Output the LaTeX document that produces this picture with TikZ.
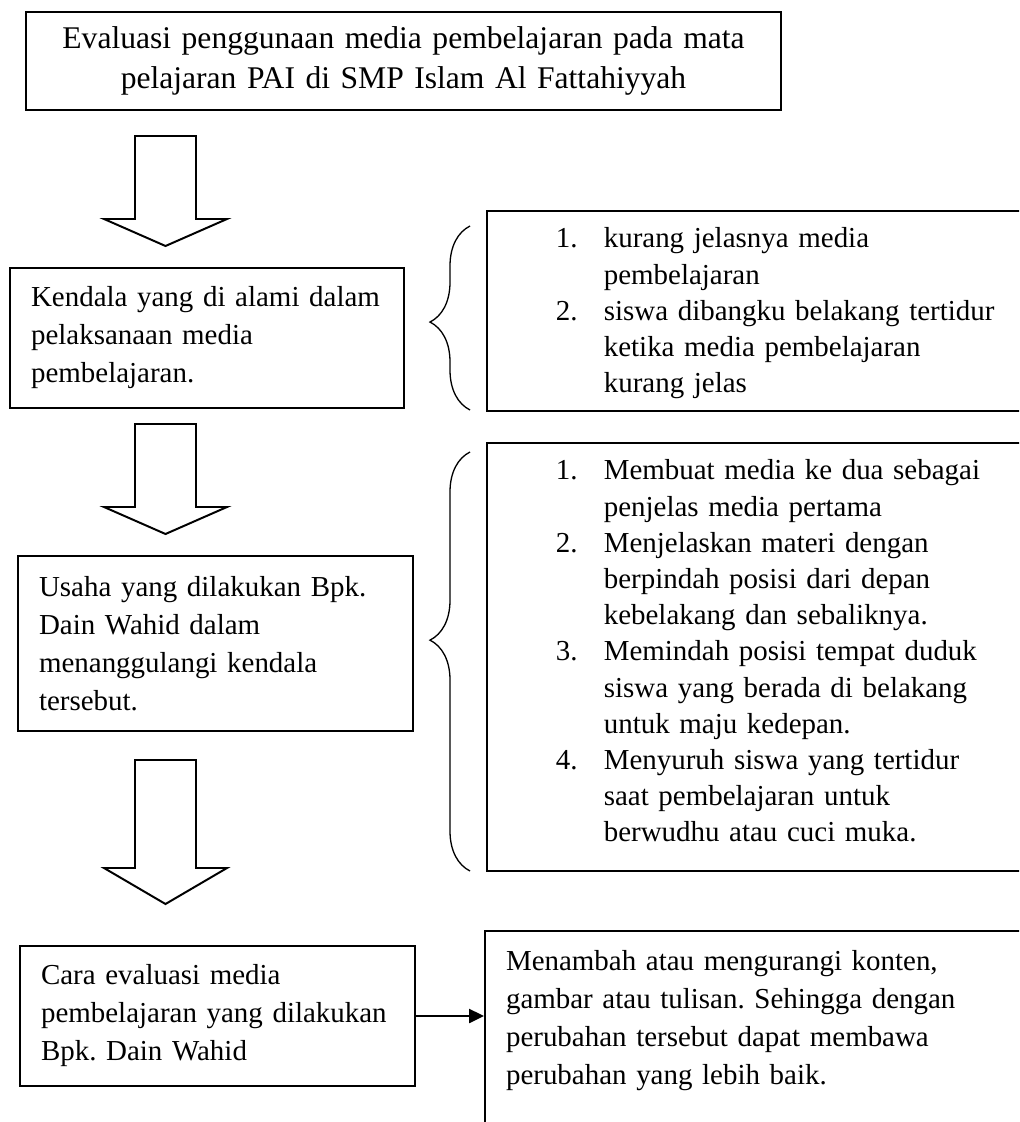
\documentclass[tikz,border=0pt]{standalone}
\usepackage{fontspec}
\setmainfont{Liberation Serif}
\usetikzlibrary{arrows.meta,decorations.pathreplacing}
\newcommand{\butir}[2]{\par\noindent\hangindent=18.2pt\hangafter=1\makebox[18.2pt][l]{#1}#2}

\begin{document}
\frenchspacing
\begin{tikzpicture}[x=0.38pt,y=-0.38pt,line width=0.75pt,font=\fontsize{11}{14.45}\selectfont]
% Node styles: plain box and numbered list box
\tikzstyle{box node}=[rectangle,draw,inner xsep=8pt,align=left];
\tikzstyle{list node}=[rectangle,draw,anchor=north west,inner xsep=26.2pt,inner ysep=6.4pt,text width=175pt,font=\fontsize{11}{13.75}\selectfont];
\tikzstyle{block arrow}=[draw,line width=0.75pt];
\tikzstyle{curly}=[decorate,line width=0.5pt];
% Frame
\useasboundingbox (0,0) rectangle (1019,1122);
\clip (0,0) rectangle (1019,1122);
% Left column
\node(judul)[box node,align=center,text width=270.9pt,minimum height=37.2pt,font=\fontsize{12}{15}\selectfont] at (403.5,61)
{Evaluasi penggunaan media pembelajaran pada mata\\pelajaran PAI di SMP Islam Al Fattahiyyah};
\node(kendala)[box node,text width=133.7pt,minimum height=53.2pt] at (207,338)
{Kendala yang di alami dalam\\pelaksanaan media\\pembelajaran.};
\node(usaha)[box node,text width=134.1pt,minimum height=66.5pt] at (215.5,643.5)
{Usaha yang dilakukan Bpk.\\Dain Wahid dalam\\menanggulangi kendala\\tersebut.};
\node(cara)[box node,text width=134.1pt,minimum height=53.2pt] at (217.5,1016)
{Cara evaluasi media\\pembelajaran yang dilakukan\\Bpk. Dain Wahid};
% Right column
\node(masalah)[list node] at (486,210)
{\vbox to 63.2pt{\butir{1.}{kurang jelasnya media\newline pembelajaran}
\butir{2.}{siswa dibangku belakang tertidur\newline ketika media pembelajaran\newline kurang jelas}\par\vfil}};
\node(solusi)[list node] at (486,442)
{\vbox to 149.8pt{\butir{1.}{Membuat media ke dua sebagai\newline penjelas media pertama}
\butir{2.}{Menjelaskan materi dengan\newline berpindah posisi dari depan\newline kebelakang dan sebaliknya.}
\butir{3.}{Memindah posisi tempat duduk\newline siswa yang berada di belakang\newline untuk maju kedepan.}
\butir{4.}{Menyuruh siswa yang tertidur\newline saat pembelajaran untuk\newline berwudhu atau cuci muka.}\par\vfil}};
\node(hasil)[box node,anchor=north west,inner ysep=7.2pt,text width=200pt] at (484,930)
{Menambah atau mengurangi konten,\\gambar atau tulisan. Sehingga dengan\\perubahan tersebut dapat membawa\\perubahan yang lebih baik.\\[60pt]\mbox{}};
% Block arrows
\foreach \ya/\yb/\yc in {136/219/246,424/507/534,760/868/904}
\draw[block arrow](135,\ya)--(196,\ya)--(196,\yb)--(227,\yb)--(165.5,\yc)--(104,\yb)--(135,\yb)--cycle;
% Braces
\draw[curly,decoration={brace,amplitude=15.2pt,aspect=0.478}](470,410)--(470,226);
\draw[curly,decoration={brace,amplitude=15.2pt,aspect=0.551}](470,871)--(470,452);
% Connector
\draw[-{Triangle[length=5.7pt,width=5.3pt]},line width=1pt](cara.east)--(cara.east-|hasil.west);
\end{tikzpicture}
\end{document}
